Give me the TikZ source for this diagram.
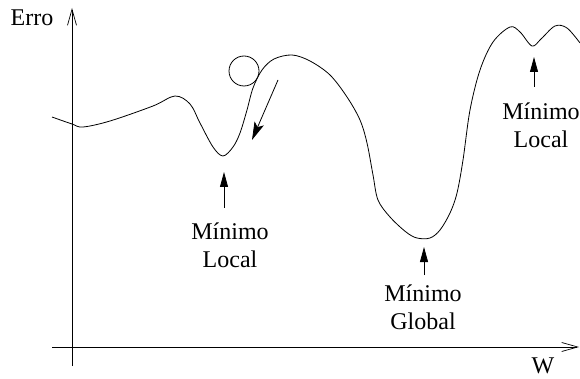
\documentclass[tikz,border=0pt]{standalone}
\usepackage{fontspec}
\setmainfont{Liberation Serif}
\usetikzlibrary{arrows.meta}
\tikzset{
	eixo/.style={line width=0.7pt, -{Straight Barb[length=16pt,width=9pt,line width=0.7pt]}},
	seta/.style={line width=0.8pt, -{Triangle[length=15pt,width=8pt]}},
	rotulo/.style={align=center, inner sep=0pt, font=\fontsize{24}{28}\selectfont}
}
\begin{document}
\begin{tikzpicture}[x=1pt,y=-1pt]
			\useasboundingbox (0,0) rectangle (580,379);
			% eixos
			\coordinate (o1) at (72,366);
			\coordinate (o2) at (52,347);
			\coordinate (ytopo) at (72,8);
			\coordinate (xfim) at (579,347);
			\draw [eixo] (o1)--(ytopo);
			\draw [eixo] (o2)--(xfim);
			\node [rotulo, anchor=base] (erro) at (32,26) {Erro};
			\node [rotulo, anchor=base] (w) at (543,373) {W};
			% curva do erro
			\draw [line width=0.8pt] plot [smooth, tension=0.55] coordinates {
				(52,117) (72,124) (83,127) (110,121) (153,106) (175,96) (190,104) (200,123)
				(213,147) (223,156) (233,147) (240,133) (247,110) (253,88) (262,70) (274,59)
				(292,55) (310,61) (330,75) (347,97) (360,120) (367,143) (373,175) (378,200)
				(390,217) (406,232) (417,238) (430,238) (440,230) (450,213) (457,193) (463,160)
				(470,110) (480,70) (493,42) (510,27) (520,32) (532,46) (541,39) (555,26) (567,28) (580,43)};
			% bola e descida
			\node [draw, circle, line width=0.8pt, minimum size=30pt, inner sep=0pt] (bola) at (244,71) {};
			\coordinate (d1) at (278,80);
			\coordinate (d2) at (252,140);
			\draw [line width=0.8pt, -{Stealth[length=18pt,width=10pt,inset=4pt]}] (d1)--(d2);
			% minimos (base = linha de baixo)
			\coordinate (minA) at (224,172);
			\coordinate (minB) at (424,247);
			\coordinate (minC) at (534,57);
			\node [rotulo, anchor=base] (labA) at (230,267) {Mínimo\\Local};
			\node [rotulo, anchor=base] (labB) at (423,329) {Mínimo\\Global};
			\node [rotulo, anchor=base] (labC) at (541,148) {Mínimo\\Local};
			\draw [seta] (minA |- 0,208)--(minA);
			\draw [seta] (minB |- 0,275)--(minB);
			\draw [seta] (minC |- 0,87)--(minC);
\end{tikzpicture}
\end{document}
